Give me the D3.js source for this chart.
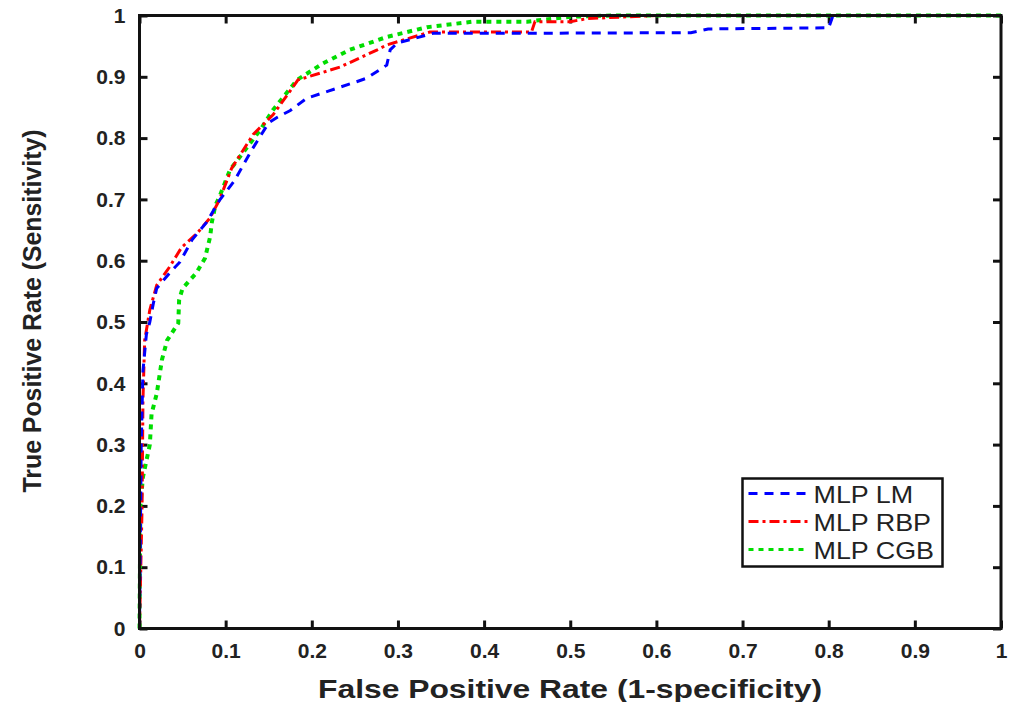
<!DOCTYPE html>
<html>
<head>
<meta charset="utf-8">
<script src="https://cdn.jsdelivr.net/npm/d3@7"></script>
<style>
  body { margin: 0; background: #fff; }
  .tick text { font-family: "Liberation Sans", Arial, sans-serif; font-weight: bold; font-size: 21px; fill: #222; }
  .axis-title { font-family: "Liberation Sans", Arial, sans-serif; font-weight: bold; fill: #222; }
</style>
</head>
<body>
<div class="chart"></div>
<script>
// ROC curves: [false positive rate, true positive rate]
var mlpLM = [[0,0],[0.002,0.3],[0.004,0.42],[0.008,0.48],[0.012,0.5],[0.016,0.53],[0.02,0.555],
  [0.035,0.58],[0.047,0.598],[0.061,0.634],[0.078,0.663],[0.093,0.699],[0.11,0.73],[0.13,0.78],
  [0.15,0.825],[0.16,0.834],[0.175,0.845],[0.194,0.865],[0.22,0.877],[0.252,0.892],[0.264,0.898],
  [0.287,0.919],[0.291,0.944],[0.299,0.955],[0.341,0.971],[0.45,0.971],[0.64,0.972],[0.66,0.978],
  [0.8,0.98],[0.805,1],[1,1]];
var mlpRBP = [[0,0],[0.003,0.2],[0.004,0.372],[0.006,0.47],[0.012,0.52],[0.02,0.56],[0.035,0.59],
  [0.049,0.622],[0.067,0.645],[0.082,0.67],[0.093,0.7],[0.107,0.751],[0.132,0.806],[0.155,0.838],
  [0.184,0.895],[0.233,0.916],[0.276,0.944],[0.287,0.952],[0.337,0.973],[0.455,0.973],[0.459,0.99],
  [0.5,0.99],[0.52,0.995],[0.6,1],[1,1]];
var mlpCGB = [[0,0],[0.001,0.2],[0.004,0.247],[0.012,0.3],[0.014,0.35],[0.02,0.383],[0.026,0.438],
  [0.032,0.47],[0.045,0.498],[0.046,0.536],[0.05,0.555],[0.066,0.58],[0.076,0.604],[0.082,0.639],
  [0.084,0.663],[0.088,0.69],[0.093,0.705],[0.105,0.748],[0.14,0.813],[0.155,0.846],[0.183,0.895],
  [0.213,0.922],[0.244,0.944],[0.287,0.965],[0.334,0.981],[0.387,0.99],[0.45,0.99],[0.5,0.998],
  [0.55,1],[1,1]];
var seriesNames = ["MLP LM", "MLP RBP", "MLP CGB"];
var ticks = [0, 0.1, 0.2, 0.3, 0.4, 0.5, 0.6, 0.7, 0.8, 0.9, 1];

var svgWidth = 1009;
var svgHeight = 702;
var margin = { top: 15.5, right: 8, bottom: 73.5, left: 139.5 };
var width = svgWidth - margin.left - margin.right;
var height = svgHeight - margin.top - margin.bottom;

var svg = d3.select(".chart").append("svg")
  .attr("width", svgWidth)
  .attr("height", svgHeight);

var chart = svg.append("g")
  .attr("transform", `translate(${margin.left}, ${margin.top})`);

var x = d3.scaleLinear().domain([0, 1]).range([0, width]);
var y = d3.scaleLinear().domain([0, 1]).range([height, 0]);

var fmt = function(d) { return d === 0 || d === 1 ? String(d) : d.toFixed(1); };

// bottom / left axes with inward ticks
var xAxisBottom = chart.append("g")
  .attr("transform", `translate(0, ${height})`)
  .call(d3.axisBottom(x).tickValues(ticks).tickFormat(fmt).tickSizeInner(-8).tickSizeOuter(0).tickPadding(15));
var yAxisLeft = chart.append("g")
  .call(d3.axisLeft(y).tickValues(ticks).tickFormat(fmt).tickSizeInner(-8).tickSizeOuter(0).tickPadding(14));
// top / right ticks, no labels
var xAxisTop = chart.append("g")
  .call(d3.axisTop(x).tickValues(ticks).tickFormat("").tickSizeInner(-8).tickSizeOuter(0));
var yAxisRight = chart.append("g")
  .attr("transform", `translate(${width}, 0)`)
  .call(d3.axisRight(y).tickValues(ticks).tickFormat("").tickSizeInner(-8).tickSizeOuter(0));

[xAxisBottom, yAxisLeft, xAxisTop, yAxisRight].forEach(function(g) {
  g.select(".domain").remove();
  g.selectAll(".tick line").attr("stroke", "#111").attr("stroke-width", 3);
});

// curves
var line = d3.line()
  .x(function(d) { return x(d[0]); })
  .y(function(d) { return y(d[1]); });

var styles = [
  { data: mlpLM, color: "#0000ff", dash: "9,7" },
  { data: mlpRBP, color: "#ff0000", dash: "10,4,3,4" },
  { data: mlpCGB, color: "#00dd00", dash: "5,5" }
];

styles.slice().reverse().forEach(function(s) {
  chart.append("path")
    .datum(s.data)
    .attr("fill", "none")
    .attr("stroke", s.color)
    .attr("stroke-width", s.color === "#00dd00" ? 4 : 3)
    .attr("stroke-dasharray", s.dash)
    .attr("d", line);
});

// frame
chart.append("rect")
  .attr("x", 0).attr("y", 0)
  .attr("width", width).attr("height", height)
  .attr("fill", "none")
  .attr("stroke", "#111")
  .attr("stroke-width", 3);

// legend
var legend = svg.append("g").attr("transform", "translate(742.5, 478.5)");
legend.append("rect")
  .attr("width", 200).attr("height", 88)
  .attr("fill", "#fff").attr("stroke", "#111").attr("stroke-width", 2.5);
styles.forEach(function(s, i) {
  var ly = 15 + i * 28;
  legend.append("line")
    .attr("x1", 6).attr("x2", 66).attr("y1", ly).attr("y2", ly)
    .attr("stroke", s.color).attr("stroke-width", 3)
    .attr("stroke-dasharray", s.dash);
  var t = legend.append("text")
    .attr("x", 71).attr("y", ly + 9)
    .style("font-family", "'Liberation Sans', Arial, sans-serif")
    .style("font-size", "24px")
    .attr("fill", "#222")
    .text(seriesNames[i]);
  // the figure is slightly stretched horizontally
  var w = t.node().getComputedTextLength();
  t.attr("textLength", w * 1.12).attr("lengthAdjust", "spacingAndGlyphs");
});

// axis titles
svg.append("text")
  .attr("class", "axis-title")
  .attr("x", 570)
  .attr("y", 698)
  .attr("text-anchor", "middle")
  .style("font-size", "25px")
  .attr("textLength", 504)
  .attr("lengthAdjust", "spacingAndGlyphs")
  .text("False Positive Rate (1-specificity)");

svg.append("text")
  .attr("class", "axis-title")
  .attr("transform", "translate(41, 311) rotate(-90)")
  .attr("text-anchor", "middle")
  .style("font-family", "'Liberation Sans Narrow', 'Liberation Sans', Arial, sans-serif")
  .style("font-size", "25px")
  .attr("textLength", 363)
  .attr("lengthAdjust", "spacingAndGlyphs")
  .text("True Positive Rate (Sensitivity)");
</script>
</body>
</html>
